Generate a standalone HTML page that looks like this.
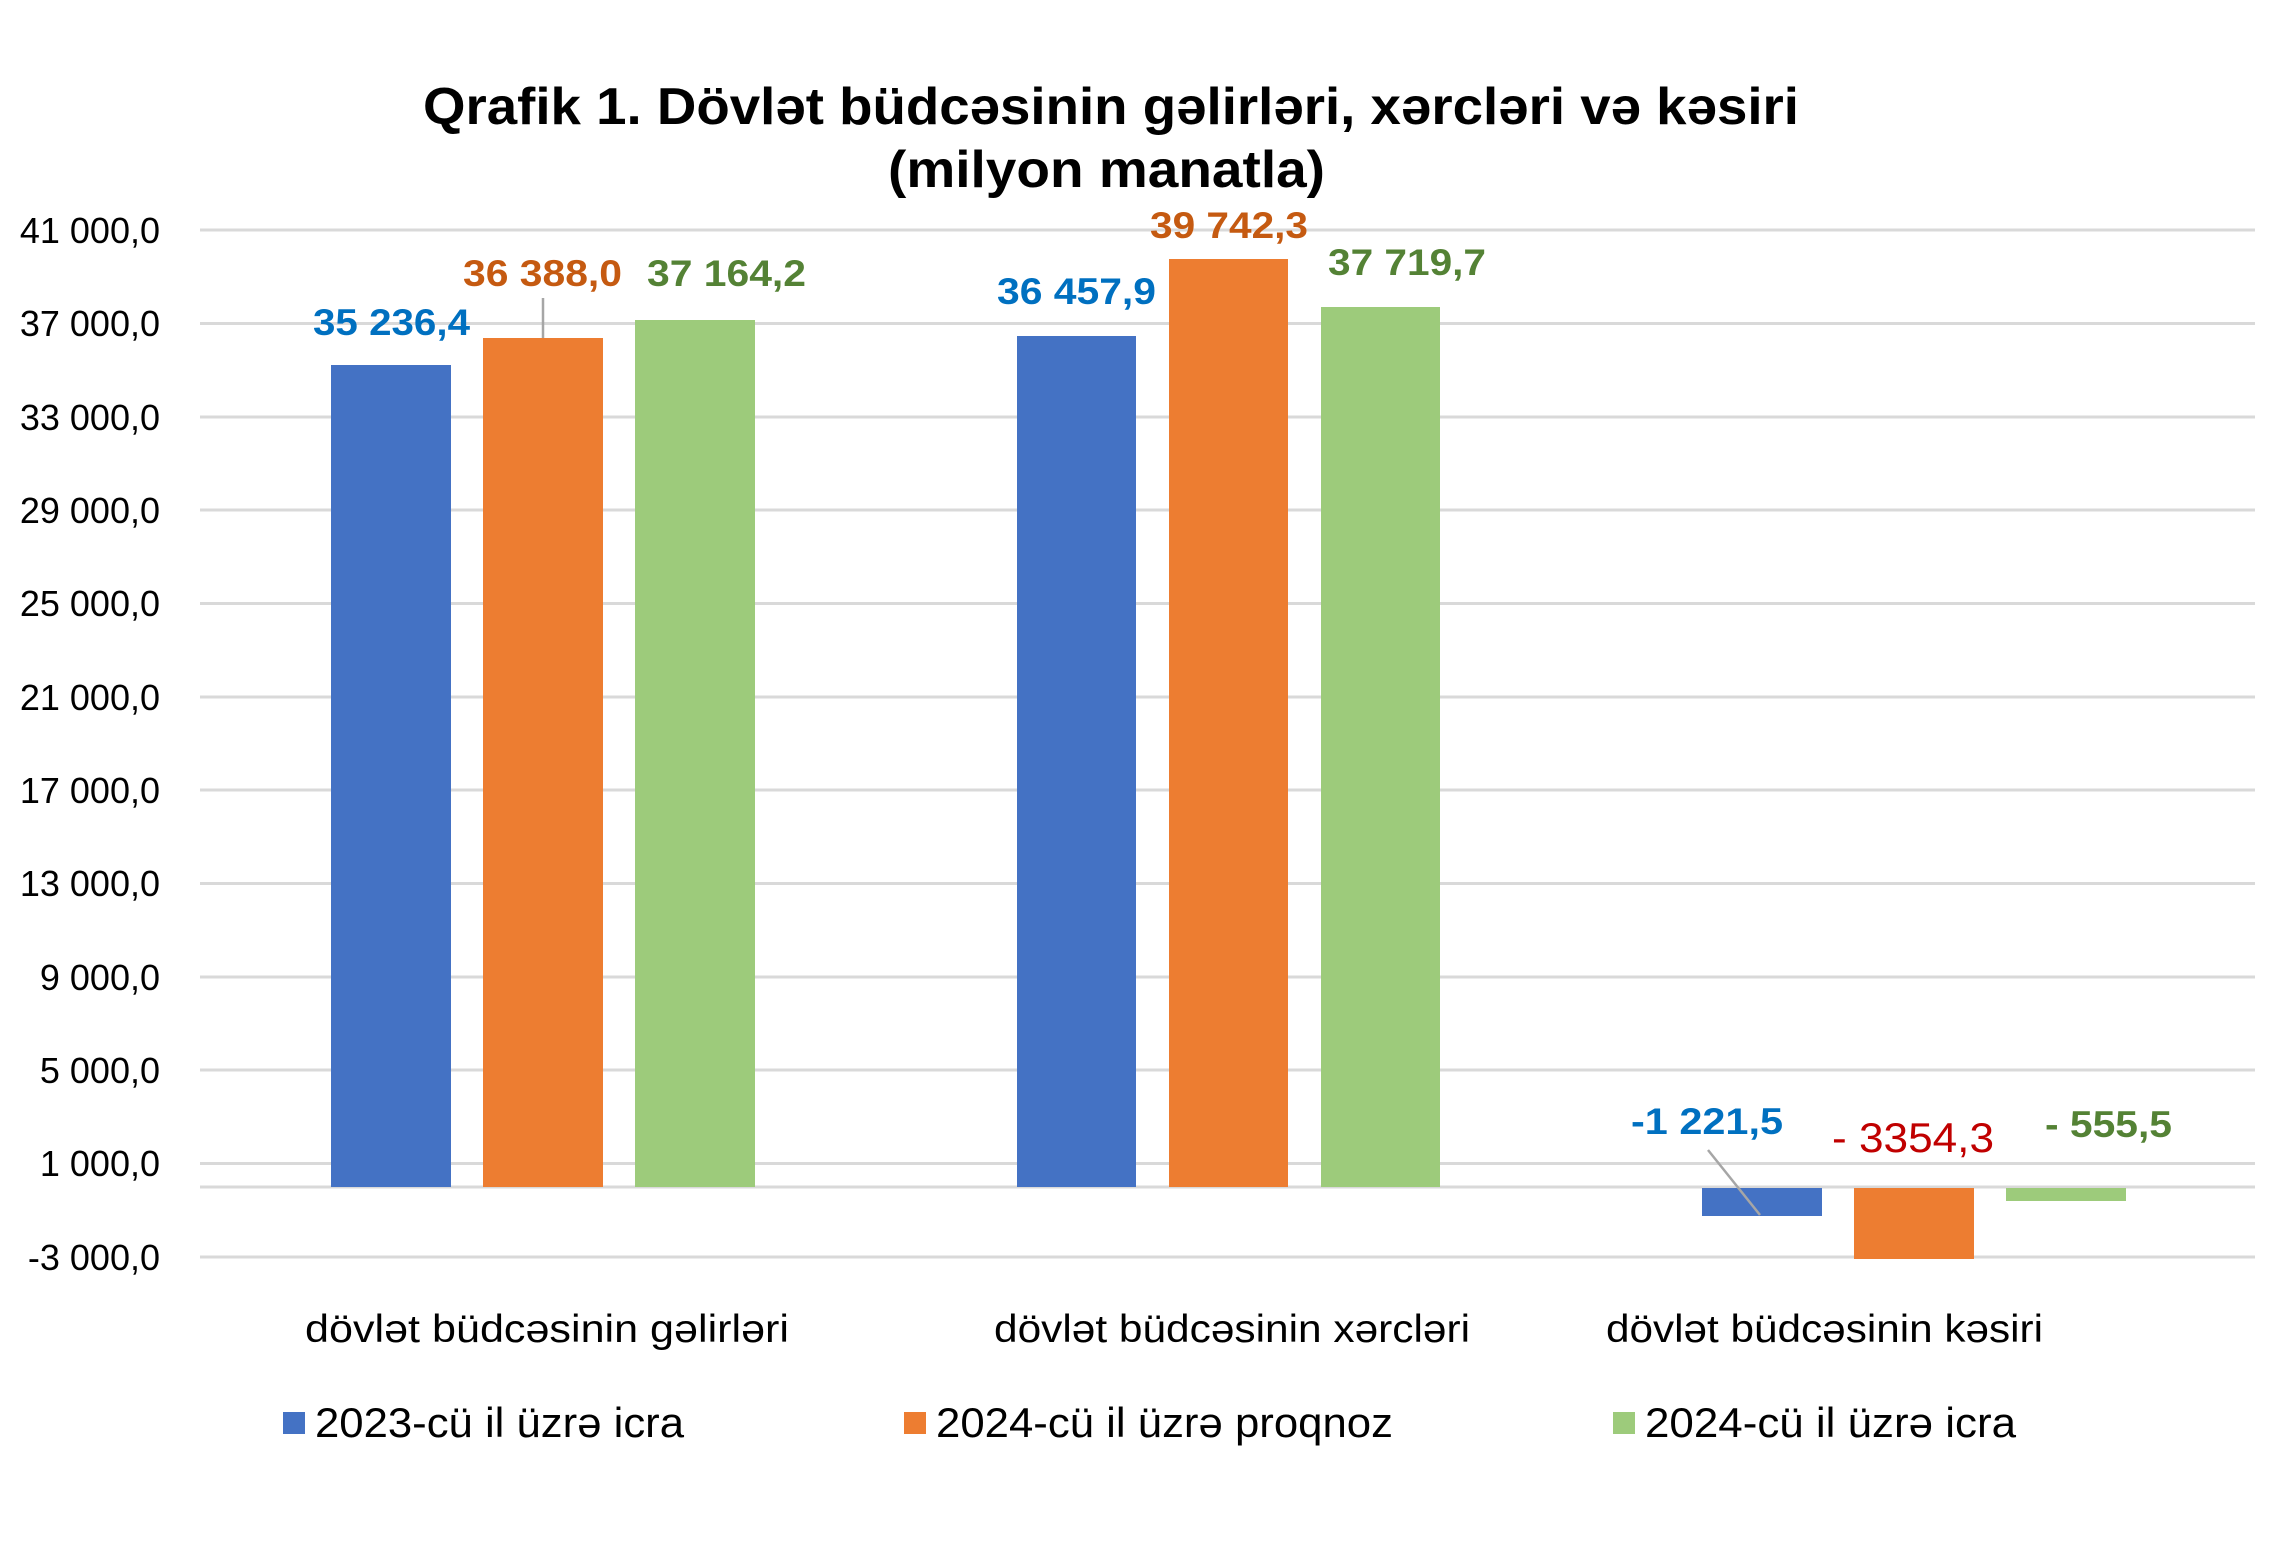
<!DOCTYPE html>
<html><head><meta charset="utf-8"><style>
html,body{margin:0;padding:0;background:#fff;}
svg{display:block;}
text{font-family:"Liberation Sans",Arial,sans-serif;}
</style></head><body>
<svg width="2269" height="1549" viewBox="0 0 2269 1549" xmlns="http://www.w3.org/2000/svg">
<rect width="2269" height="1549" fill="#fff"/>
<text x="423" y="124" font-size="52" font-weight="bold" textLength="1376" lengthAdjust="spacingAndGlyphs">Qrafik 1. Dövlət büdcəsinin gəlirləri, xərcləri və kəsiri</text>
<text x="888" y="187" font-size="52" font-weight="bold" textLength="437" lengthAdjust="spacingAndGlyphs">(milyon manatla)</text>
<g stroke="#d9d9d9" stroke-width="3">
<line x1="200" x2="2255" y1="230" y2="230"/>
<line x1="200" x2="2255" y1="323.5" y2="323.5"/>
<line x1="200" x2="2255" y1="417" y2="417"/>
<line x1="200" x2="2255" y1="510" y2="510"/>
<line x1="200" x2="2255" y1="603.5" y2="603.5"/>
<line x1="200" x2="2255" y1="697" y2="697"/>
<line x1="200" x2="2255" y1="790" y2="790"/>
<line x1="200" x2="2255" y1="883.5" y2="883.5"/>
<line x1="200" x2="2255" y1="977" y2="977"/>
<line x1="200" x2="2255" y1="1070" y2="1070"/>
<line x1="200" x2="2255" y1="1163.5" y2="1163.5"/>
<line x1="200" x2="2255" y1="1187" y2="1187"/>
<line x1="200" x2="2255" y1="1257" y2="1257"/>
</g>
<g font-size="36" text-anchor="end" fill="#000">
<text x="160" y="243">41 000,0</text>
<text x="160" y="336">37 000,0</text>
<text x="160" y="430">33 000,0</text>
<text x="160" y="523">29 000,0</text>
<text x="160" y="616">25 000,0</text>
<text x="160" y="710">21 000,0</text>
<text x="160" y="803">17 000,0</text>
<text x="160" y="896">13 000,0</text>
<text x="160" y="990">9 000,0</text>
<text x="160" y="1083">5 000,0</text>
<text x="160" y="1176">1 000,0</text>
<text x="160" y="1270">-3 000,0</text>
</g>
<g>
<rect x="331" y="365" width="120" height="822" fill="#4472c4"/>
<rect x="483" y="338" width="120" height="849" fill="#ed7d31"/>
<rect x="635" y="320" width="120" height="867" fill="#9dcb7b"/>
<rect x="1017" y="336" width="119" height="851" fill="#4472c4"/>
<rect x="1169" y="259" width="119" height="928" fill="#ed7d31"/>
<rect x="1321" y="307" width="119" height="880" fill="#9dcb7b"/>
<rect x="1702" y="1188" width="120" height="28" fill="#4472c4"/>
<rect x="1854" y="1188" width="120" height="71" fill="#ed7d31"/>
<rect x="2006" y="1188" width="120" height="13" fill="#9dcb7b"/>
</g>
<g stroke="#a6a6a6" stroke-width="2.5">
<line x1="543" y1="298" x2="543" y2="338"/>
<line x1="1708" y1="1150" x2="1760" y2="1215"/>
</g>
<g font-size="37" font-weight="bold">
<text x="313" y="335" fill="#0070c0" textLength="157" lengthAdjust="spacingAndGlyphs">35 236,4</text>
<text x="463" y="286" fill="#c55a11" textLength="159" lengthAdjust="spacingAndGlyphs">36 388,0</text>
<text x="647" y="286" fill="#548235" textLength="159" lengthAdjust="spacingAndGlyphs">37 164,2</text>
<text x="997" y="304" fill="#0070c0" textLength="159" lengthAdjust="spacingAndGlyphs">36 457,9</text>
<text x="1150" y="238" fill="#c55a11" textLength="158" lengthAdjust="spacingAndGlyphs">39 742,3</text>
<text x="1328" y="275" fill="#548235" textLength="158" lengthAdjust="spacingAndGlyphs">37 719,7</text>
<text x="1631" y="1134" fill="#0070c0" textLength="152" lengthAdjust="spacingAndGlyphs">-1 221,5</text>
<text x="2045" y="1137" fill="#548235" textLength="127" lengthAdjust="spacingAndGlyphs">- 555,5</text>
</g>
<text x="1832" y="1152" font-size="42" fill="#c00000" textLength="162" lengthAdjust="spacingAndGlyphs">- 3354,3</text>
<g font-size="39" fill="#000">
<text x="305" y="1342" textLength="484" lengthAdjust="spacingAndGlyphs">dövlət büdcəsinin gəlirləri</text>
<text x="994" y="1342" textLength="476" lengthAdjust="spacingAndGlyphs">dövlət büdcəsinin xərcləri</text>
<text x="1606" y="1342" textLength="437" lengthAdjust="spacingAndGlyphs">dövlət büdcəsinin kəsiri</text>
</g>
<rect x="283" y="1412" width="22" height="22" fill="#4472c4"/>
<rect x="904" y="1412" width="22" height="22" fill="#ed7d31"/>
<rect x="1613" y="1412" width="22" height="22" fill="#9dcb7b"/>
<g font-size="42" fill="#000">
<text x="315" y="1437" textLength="369" lengthAdjust="spacingAndGlyphs">2023-cü il üzrə icra</text>
<text x="936" y="1437" textLength="457" lengthAdjust="spacingAndGlyphs">2024-cü il üzrə proqnoz</text>
<text x="1645" y="1437" textLength="371" lengthAdjust="spacingAndGlyphs">2024-cü il üzrə icra</text>
</g>
</svg>
</body></html>
